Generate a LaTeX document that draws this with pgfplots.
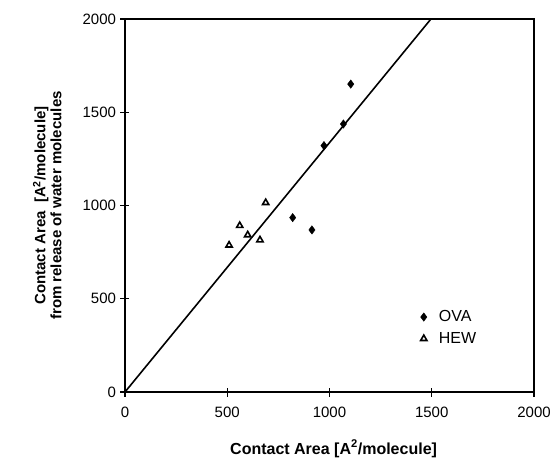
\documentclass[border=0pt]{standalone}
\usepackage{fontspec}
\setmainfont{Liberation Sans}
\usepackage{pgfplots}
\pgfplotsset{compat=1.18}

\begin{document}
\begin{tikzpicture}
\path[use as bounding box] (-125pt,-68pt) rectangle (428pt,392pt);
\begin{axis}[
    scale only axis,
    width=409pt, height=373pt,
    xmin=0, xmax=2000, ymin=0, ymax=2000,
    xtick={0,500,...,2000}, ytick={0,500,...,2000},
    tick align=center, tick pos=left,
    major tick length=9pt,
    axis line style={line width=1.6pt},
    every tick/.style={line width=1.3pt, black},
    /pgf/number format/assume math mode=true,
    /pgf/number format/1000 sep={},
    tick label style={font=\fontsize{15}{17}\selectfont},
    xticklabel style={yshift=-7pt},
    yticklabel style={xshift=-1pt},
    xlabel={Contact Area [A\textsuperscript{2}/molecule]},
    xlabel style={font=\bfseries\fontsize{16}{18}\selectfont, at={(axis description cs:0.51,-0.152)}, anchor=center},
    ylabel={Contact Area\ \ [A\textsuperscript{2}/molecule]\\from release of water molecules},
    ylabel style={font=\bfseries\fontsize{15}{16}\selectfont, align=center, at={(axis description cs:-0.19,0.5)}, anchor=center},
    legend style={at={(axis description cs:0.715,0.115)}, anchor=south west, draw=none, fill=none,
        font=\fontsize{16}{18}\selectfont, row sep=5pt},
    legend cell align=left,
]
\addplot[line width=1.6pt, black, forget plot] coordinates {(0,0) (1496,2000)};
\addplot[only marks, mark=diamond*, mark size=4.2pt, black] coordinates {
    (1104,1651) (1068,1437) (973,1321) (820,935) (914,869)
};
\addlegendentry{\hspace{10pt}OVA}
\addplot[only marks, mark=triangle, mark size=3.6pt, black, line width=1.6pt] coordinates {
    (688,1015) (561,892) (600,842) (660,815) (509,787)
};
\addlegendentry{\hspace{10pt}HEW}
\end{axis}
\end{tikzpicture}
\end{document}
